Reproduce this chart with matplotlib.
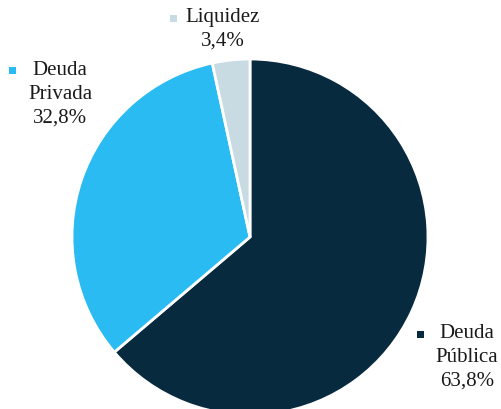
import matplotlib.pyplot as plt
from matplotlib.patches import Rectangle

labels = ["Deuda\nPública", "Deuda\nPrivada", "Liquidez"]
values = [63.8, 32.8, 3.4]
pct_labels = ["63,8%", "32,8%", "3,4%"]
colors = ["#082a3e", "#2bbbf3", "#c8dbe3"]

W, H = 501, 410
fig = plt.figure(figsize=(W / 100, H / 100), dpi=100)

# pie centre ~ (250, 238) px, radius ~178 px
cx, cy, r = 250, 238, 178
ax = fig.add_axes([(cx - r) / W, (H - cy - r) / H, 2 * r / W, 2 * r / H])
ax.pie(values, colors=colors, startangle=90, counterclock=False, radius=1,
       wedgeprops=dict(edgecolor="white", linewidth=2))
ax.set_xlim(-1, 1)
ax.set_ylim(-1, 1)
ax.set_aspect("equal")
ax.axis("off")

font = dict(family=["Liberation Serif", "DejaVu Serif"], fontsize=15, color="#1a1a1a")

# label blocks: (text centre x, first line y, marker x, marker y) in pixels from top-left
blocks = [
    (467, 335, 420, 335),
    (60, 72, 12, 71),
    (223, 19, 173, 19),
]
for (lab, pct, col, (tx, ty, mx, my)) in zip(labels, pct_labels, colors, blocks):
    txt = lab + "\n" + pct
    fig.text(tx / W, 1 - (ty - 11) / H, txt, ha="center", va="top",
             linespacing=1.35, **font)
    s = 7
    fig.patches.append(Rectangle((mx - s / 2, H - my - s / 2), s, s,
                                 transform=None, facecolor=col, edgecolor="none"))

fig.savefig("out.png", dpi=100)
